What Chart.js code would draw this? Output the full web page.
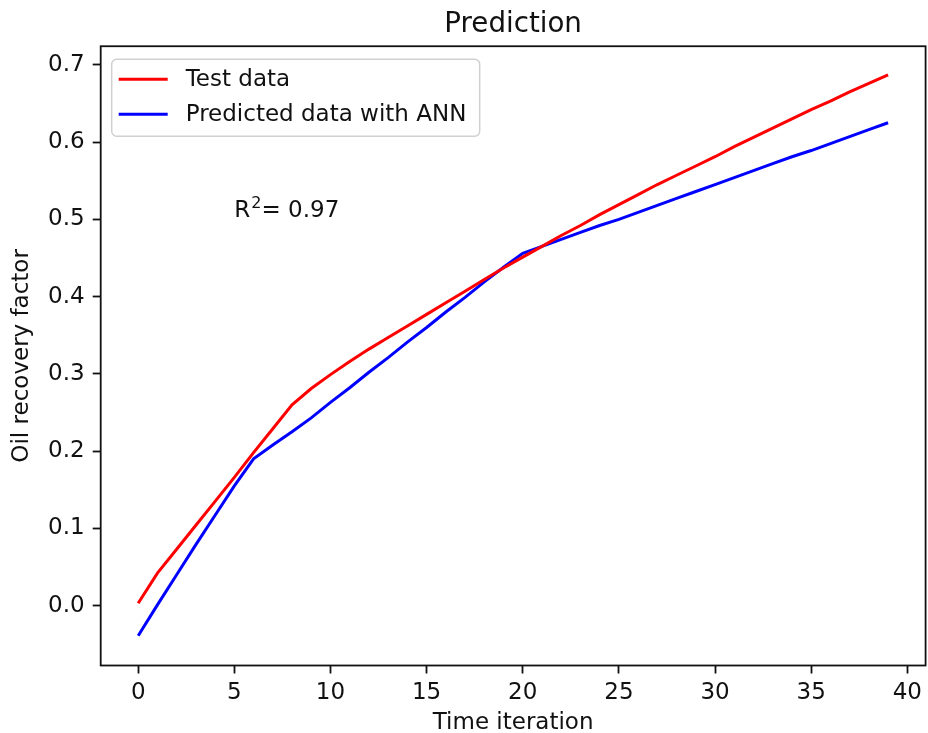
<!DOCTYPE html>
<html>
<head>
<meta charset="utf-8">
<title>Prediction</title>
<script src="https://cdn.jsdelivr.net/npm/chart.js@4.4.1/dist/chart.umd.min.js"></script>
<style>
  html, body { margin: 0; padding: 0; background: #fff; }
  canvas { display: block; }
</style>
</head>
<body>
<canvas id="chart" width="928" height="733"></canvas>
<script>
// ----- data -----
const TIME = [0, 1, 2, 3, 4, 5, 6, 7, 8, 9,
              10, 11, 12, 13, 14, 15, 16, 17, 18, 19,
              20, 21, 22, 23, 24, 25, 26, 27, 28, 29,
              30, 31, 32, 33, 34, 35, 36, 37, 38, 39];

const TEST_DATA = [0.003, 0.042, 0.073, 0.104, 0.135, 0.166, 0.198, 0.229, 0.260, 0.281,
                   0.299, 0.316, 0.332, 0.347, 0.362, 0.377, 0.392, 0.407, 0.422, 0.437,
                   0.451, 0.465, 0.479, 0.492, 0.506, 0.519, 0.532, 0.545, 0.557, 0.569,
                   0.581, 0.594, 0.606, 0.618, 0.630, 0.642, 0.653, 0.665, 0.676, 0.687];

const ANN_DATA = [-0.039, 0.001, 0.040, 0.079, 0.117, 0.155, 0.190, 0.208, 0.225, 0.243,
                  0.263, 0.282, 0.302, 0.321, 0.341, 0.360, 0.380, 0.399, 0.419, 0.438,
                  0.456, 0.465, 0.474, 0.483, 0.492, 0.500, 0.509, 0.518, 0.527, 0.536,
                  0.545, 0.554, 0.563, 0.572, 0.581, 0.589, 0.598, 0.607, 0.616, 0.625];

const X_TICKS = [0, 5, 10, 15, 20, 25, 30, 35, 40];
const Y_TICKS = [0.0, 0.1, 0.2, 0.3, 0.4, 0.5, 0.6, 0.7];

const SERIES_LABELS = ["Test data", "Predicted data with ANN"];
const SERIES_COLORS = ["#ff0000", "#0000ff"];

const R2_VALUE = "0.97";
const R2_AT = { x: 5, y: 0.5 };

// ----- styles -----
const FONT = "'DejaVu Sans', sans-serif";
const INK = "#111";
const TICK_SIZE = 23;

// top/right spines too (matplotlib style box)
const framePlugin = {
  id: "frame",
  afterDraw(chart) {
    const { ctx, chartArea: a } = chart;
    ctx.save();
    ctx.strokeStyle = INK;
    ctx.lineWidth = 1.8;
    ctx.strokeRect(a.left, a.top, a.right - a.left, a.bottom - a.top);
    ctx.restore();
  },
};

// legend drawn inside the plot, upper left
const legendBox = {
  id: "legendBox",
  afterDatasetsDraw(chart) {
    const { ctx, chartArea: a } = chart;
    const x0 = a.left + 11, y0 = a.top + 13, w = 368, h = 77, r = 5;
    ctx.save();
    ctx.beginPath();
    ctx.roundRect(x0, y0, w, h, r);
    ctx.fillStyle = "rgba(255,255,255,0.8)";
    ctx.fill();
    ctx.strokeStyle = "#d0d0d0";
    ctx.lineWidth = 1.5;
    ctx.stroke();
    ctx.font = `${TICK_SIZE}px ${FONT}`;
    ctx.textBaseline = "middle";
    chart.data.datasets.forEach((ds, i) => {
      const y = y0 + 20 + i * 35;
      ctx.strokeStyle = ds.borderColor;
      ctx.lineWidth = 3;
      ctx.beginPath();
      ctx.moveTo(x0 + 7, y);
      ctx.lineTo(x0 + 56, y);
      ctx.stroke();
      ctx.fillStyle = INK;
      ctx.fillText(ds.label, x0 + 74, y + 1);
    });
    ctx.restore();
  },
};

// "R² = 0.97" note at data coords
const r2Note = {
  id: "r2Note",
  afterDatasetsDraw(chart) {
    const { ctx, scales } = chart;
    const x = scales.x.getPixelForValue(R2_AT.x);
    const y = scales.y.getPixelForValue(R2_AT.y) - 2;
    ctx.save();
    ctx.fillStyle = INK;
    ctx.textBaseline = "alphabetic";
    ctx.font = `${TICK_SIZE}px ${FONT}`;
    ctx.fillText("R", x, y);
    let cx = x + ctx.measureText("R").width;
    ctx.font = `16px ${FONT}`;
    ctx.fillText("2", cx + 1, y - 9);
    cx += ctx.measureText("2").width + 1;
    ctx.font = `${TICK_SIZE}px ${FONT}`;
    ctx.fillText("= " + R2_VALUE, cx, y);
    ctx.restore();
  },
};

const toPoints = (ys) => TIME.map((t, i) => ({ x: t, y: ys[i] }));

new Chart(document.getElementById("chart"), {
  type: "line",
  data: {
    datasets: [
      {
        label: SERIES_LABELS[0],
        data: toPoints(TEST_DATA),
        borderColor: SERIES_COLORS[0],
        borderWidth: 3,
        pointRadius: 0,
        tension: 0,
        fill: false,
      },
      {
        label: SERIES_LABELS[1],
        data: toPoints(ANN_DATA),
        borderColor: SERIES_COLORS[1],
        borderWidth: 3,
        pointRadius: 0,
        tension: 0,
        fill: false,
      },
    ],
  },
  options: {
    responsive: false,
    animation: false,
    layout: { padding: { left: 0, right: 2, top: 0, bottom: 0 } },
    scales: {
      x: {
        type: "linear",
        min: -1.95,
        max: 40.95,
        afterBuildTicks: (s) => { s.ticks = X_TICKS.map(v => ({ value: v })); },
        afterFit: (s) => { s.height = 67.5; },
        border: { display: false },
        grid: { drawOnChartArea: false, drawTicks: true, tickLength: 8, tickWidth: 1.8, tickColor: INK },
        ticks: { color: INK, padding: 6, maxRotation: 0, font: { family: FONT, size: TICK_SIZE } },
        title: { display: true, text: "Time iteration", color: INK, padding: { top: 0, bottom: -4 },
                 font: { family: FONT, size: TICK_SIZE } },
      },
      y: {
        type: "linear",
        min: -0.0775,
        max: 0.724,
        afterBuildTicks: (s) => { s.ticks = Y_TICKS.map(v => ({ value: v })); },
        afterFit: (s) => { s.width = 100.7; },
        border: { display: false },
        grid: { drawOnChartArea: false, drawTicks: true, tickLength: 8, tickWidth: 1.8, tickColor: INK },
        ticks: { color: INK, padding: 8, font: { family: FONT, size: TICK_SIZE },
                 callback: (v) => Number(v).toFixed(1) },
        title: { display: true, text: "Oil recovery factor", color: INK, padding: { top: 8, bottom: 0 },
                 font: { family: FONT, size: TICK_SIZE } },
      },
    },
    plugins: {
      legend: { display: false },
      tooltip: { enabled: false },
      title: {
        display: true,
        fullSize: false,
        text: "Prediction",
        color: INK,
        font: { family: FONT, size: 27.7, weight: "normal" },
        padding: { top: 8, bottom: 5 },
      },
    },
  },
  plugins: [framePlugin, legendBox, r2Note],
});
</script>
</body>
</html>
